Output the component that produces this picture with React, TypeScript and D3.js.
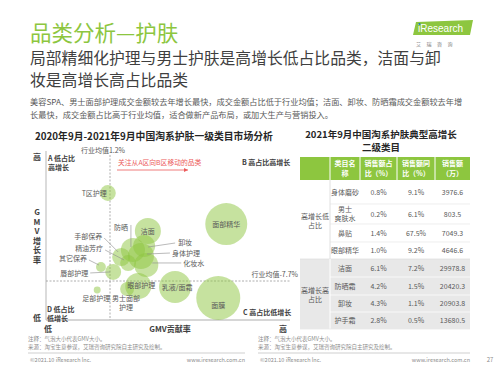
import * as d3 from "d3";

const W = 500;
const H = 370;
const FONT = "'Noto Sans CJK SC', 'Noto Sans', sans-serif";
const GREEN = "#8dc63f";

// bubble chart: GMV contribution (%), GMV growth (%), GMV size
const CATEGORIES = ["T区护理", "洁面", "防晒", "手部保养", "精油芳疗", "其它保养", "唇部护理", "卸妆", "身体护理", "化妆水", "面部精华", "乳液/面霜", "眼部护理", "面膜", "足部护理", "男士面部护理"];
const SHARE = [1.16, 1.91, 1.63, 1.41, 1.54, 1.03, 1.26, 1.84, 1.78, 1.88, 3.38, 2.42, 1.73, 3.23, 0.96, 1.52];
const GROWTH = [65.2, 33.7, 18, 12.2, 7.2, 3.9, -0.2, 21.3, 13, 5.6, 39.5, -12.7, -11.8, -21.8, -15.1, -14.3];
const GMV = [13, 35, 30, 17, 13, 5, 13, 25, 35, 30, 91, 53, 35, 100, 2.5, 10];
const AVG_SHARE = 1.2;
const AVG_GROWTH = -7.7;

// table
const GROUPS = ["高增长低占比", "高增长高占比"];
const ITEMS = ["身体磨砂", "男士爽肤水", "鼻贴", "眼部精华", "洁面", "防晒霜", "卸妆", "护手霜"];
const ITEM_SHARE = [0.8, 0.2, 1.4, 1.0, 6.1, 4.2, 4.3, 2.8];
const ITEM_YOY = [9.1, 6.1, 67.5, 9.2, 7.2, 1.5, 1.1, 0.5];
const ITEM_SALES = [3976.6, 803.5, 7049.3, 4646.6, 29978.8, 20420.3, 20903.8, 13680.5];
const HEADERS = [[""], ["类目名", "称"], ["销售额占", "比（%）"], ["销售额同", "比（%）"], ["销售额", "（万）"]];

// label placement relative to bubble centre (dx, dy, anchor, leader line)
type Lab = { dx: number; dy: number; anchor: string; line?: number[]; lines?: string[] };
const LABELS: Lab[] = [
  { dx: -1, dy: 3, anchor: "end" },
  { dx: 0, dy: 3, anchor: "middle" },
  { dx: -12, dy: -20, anchor: "middle", line: [-2, -25, -2, -3] },
  { dx: -19, dy: -18, anchor: "end", line: [-17, -19, -3, -5] },
  { dx: -25, dy: -12, anchor: "end", line: [-23, -13, -4, -3] },
  { dx: -14, dy: -6, anchor: "end", line: [-12, -7, -2, -2] },
  { dx: -25, dy: 4, anchor: "end", line: [-23, 1, -3, 0] },
  { dx: 34, dy: -1, anchor: "start", line: [31, -3, 4, 1] },
  { dx: 31, dy: 0, anchor: "start", line: [29, -3, 6, -2] },
  { dx: 37, dy: 1, anchor: "start", line: [35, -2, 6, -2] },
  { dx: 0, dy: 3, anchor: "middle" },
  { dx: 2, dy: 3, anchor: "middle" },
  { dx: 3, dy: 2, anchor: "middle" },
  { dx: 0, dy: 10, anchor: "middle" },
  { dx: -1, dy: 11, anchor: "middle" },
  { dx: -1, dy: 12, anchor: "middle", lines: ["男士面部", "护理"] },
];

const ROW_H = [24, 20, 18, 17, 18, 18, 17, 17];
const COLS = [300, 330, 360, 397, 435, 470];

export default function App() {
  const x = d3.scaleLinear().domain([0, 4.5]).range([46, 286]);
  const y = d3.scaleLinear().domain([-40, 100]).range([320, 151]);
  const r = d3.scaleSqrt().domain([0, 100]).range([0, 22]);
  const pct = d3.format(".1f");

  const ax = x(AVG_SHARE);
  const ay = y(AVG_GROWTH);

  const rowTop: number[] = [];
  ROW_H.reduce((acc, h) => { rowTop.push(acc); return acc + h; }, 180);
  const tableBottom = rowTop[7] + ROW_H[7];
  const colMid = (i: number) => (COLS[i] + COLS[i + 1]) / 2;

  const small = { fontSize: 7, fill: "#595959" };

  return (
    <svg width={W} height={H} style={{ position: "fixed", left: 0, top: 0, fontFamily: FONT }}>
      <rect width={W} height={H} fill="#fff" />
      <defs>
        <marker id="arr" markerWidth="6" markerHeight="6" refX="5" refY="3" orient="auto">
          <path d="M0,0.5 L5,3 L0,5.5 Z" fill="#ec5b5b" />
        </marker>
      </defs>

      {/* header */}
      <text x={30} y={41} fontSize={21.5} fill={GREEN}>品类分析—护肤</text>
      <polygon points="416,22 473,20 470,35 413,35" fill={GREEN} />
      <text x={418} y={32} fontSize={10} fill="#fff" fontFamily="'Liberation Sans', sans-serif">iResearch</text>
      <circle cx={419.5} cy={24} r={1} fill="#1a75bb" />
      <text x={416} y={46} fontSize={5} fill="#777" letterSpacing={5.5}>艾瑞咨询</text>

      <text x={30} y={64} fontSize={15.8} fill="#404040">局部精细化护理与男士护肤是高增长低占比品类，洁面与卸</text>
      <text x={30} y={86} fontSize={15.8} fill="#404040">妆是高增长高占比品类</text>
      <text x={30} y={105} fontSize={8.2} fill="#595959">美容SPA、男士面部护理成交金额较去年增长最快，成交金额占比低于行业均值；洁面、卸妆、防晒霜成交金额较去年增</text>
      <text x={30} y={118} fontSize={8.2} fill="#595959">长最快，成交金额占比高于行业均值，适合做新产品布局，或加大生产与营销投入。</text>

      {/* bubble chart */}
      <text x={35} y={140} fontSize={9.8} fontWeight="bold" fill="#262626">2020年9月-2021年9月中国淘系护肤一级类目市场分析</text>

      <line x1={46} x2={46} y1={151} y2={320} stroke="#c8c8c8" strokeWidth={1.3} />
      <line x1={46} x2={290} y1={320} y2={320} stroke="#c8c8c8" strokeWidth={1.3} />
      <line x1={ax} x2={ax} y1={155} y2={320} stroke="#9a9a9a" strokeWidth={0.8} strokeDasharray="2,1.5" />
      <line x1={46} x2={290} y1={ay} y2={ay} stroke="#9a9a9a" strokeWidth={0.8} strokeDasharray="2,1.5" />
      <text x={ax - 7} y={153} fontSize={7} fill="#595959" textAnchor="middle">行业均值1.2%</text>
      <text x={298} y={277} fontSize={7} fill="#595959" textAnchor="end">行业均值-7.7%</text>

      <text x={37} y={160} fontSize={8} fontWeight="bold" fill="#404040" textAnchor="middle">高</text>
      {["G", "M", "V", "增", "长", "率"].map((c, i) => (
        <text key={c} x={37} y={215 + i * 9.5} fontSize={8} fontWeight="bold" fill="#404040" textAnchor="middle">{c}</text>
      ))}
      <text x={37} y={321} fontSize={8} fontWeight="bold" fill="#404040" textAnchor="middle">低</text>
      <text x={48} y={332} fontSize={8} fontWeight="bold" fill="#404040" textAnchor="middle">低</text>
      <text x={170} y={332} fontSize={8} fontWeight="bold" fill="#404040" textAnchor="middle">GMV贡献率</text>
      <text x={283} y={332} fontSize={8} fontWeight="bold" fill="#404040" textAnchor="middle">高</text>

      <g fontSize={7} fontWeight="bold" fill="#404040">
        <text x={48} y={161}>A 低占比</text>
        <text x={48} y={170}>高增长</text>
        <text x={242} y={165}>B 高占比高增长</text>
        <text x={243} y={315}>C 高占比低增长</text>
        <text x={47} y={312}>D 低占比</text>
        <text x={47} y={321}>低增长</text>
      </g>
      <text x={118} y={165} fontSize={6.8} fill="#ec5b5b">关注从A区向B区移动的品类</text>
      <line x1={117} x2={188} y1={170} y2={170} stroke="#ec5b5b" strokeWidth={0.8} markerEnd="url(#arr)" />

      <g>
        {CATEGORIES.map((c, i) => (
          <circle key={c} cx={x(SHARE[i])} cy={y(GROWTH[i])} r={r(GMV[i])} fill={GREEN} fillOpacity={0.5} />
        ))}
      </g>
      <g fontSize={7} fill="#595959">
        {CATEGORIES.map((c, i) => {
          const cx = x(SHARE[i]);
          const cy = y(GROWTH[i]);
          const l = LABELS[i];
          return (
            <g key={c}>
              {l.line && (
                <line x1={cx + l.line[0]} y1={cy + l.line[1]} x2={cx + l.line[2]} y2={cy + l.line[3]} stroke="#8c8c8c" strokeWidth={0.6} />
              )}
              {(l.lines || [c]).map((t, j) => (
                <text key={t} x={cx + l.dx} y={cy + l.dy + j * 9} textAnchor={l.anchor}>{t}</text>
              ))}
            </g>
          );
        })}
      </g>

      {/* table */}
      <text x={381} y={138} fontSize={9.5} fontWeight="bold" fill="#262626" textAnchor="middle">2021年9月中国淘系护肤典型高增长</text>
      <text x={381} y={151} fontSize={9.5} fontWeight="bold" fill="#262626" textAnchor="middle">二级类目</text>

      <rect x={COLS[0]} y={157} width={COLS[5] - COLS[0]} height={23} fill={GREEN} />
      {HEADERS.map((h, i) => (
        <g key={i}>
          {i > 0 && <line x1={COLS[i]} x2={COLS[i]} y1={157} y2={180} stroke="#fff" strokeWidth={1} />}
          {h.map((t, j) => (
            <text key={j} x={colMid(i)} y={166 + j * 9.5} fontSize={7} fontWeight="bold" fill="#fff" textAnchor="middle">{t}</text>
          ))}
        </g>
      ))}

      <rect x={COLS[0]} y={rowTop[4]} width={COLS[5] - COLS[0]} height={tableBottom - rowTop[4]} fill="#e8e8e8" />
      {ITEMS.map((it, i) => {
        const top = rowTop[i];
        const mid = top + ROW_H[i] / 2;
        const second = i >= 4;
        const names = it === "男士爽肤水" ? ["男士", "爽肤水"] : [it];
        return (
          <g key={it}>
            {i % 4 !== 3 && (
              <line x1={COLS[1]} x2={COLS[5]} y1={top + ROW_H[i]} y2={top + ROW_H[i]} stroke={second ? "#fff" : "#e6e6e6"} strokeWidth={0.7} />
            )}
            {names.map((n, j) => (
              <text key={n} x={colMid(1)} y={mid + 2.5 + (j - (names.length - 1) / 2) * 9} fontSize={7} fill="#595959" textAnchor="middle">{n}</text>
            ))}
            <text x={colMid(2)} y={mid + 2.5} {...small} textAnchor="middle">{pct(ITEM_SHARE[i])}%</text>
            <text x={colMid(3)} y={mid + 2.5} {...small} textAnchor="middle">{pct(ITEM_YOY[i])}%</text>
            <text x={colMid(4)} y={mid + 2.5} {...small} textAnchor="middle">{pct(ITEM_SALES[i])}</text>
          </g>
        );
      })}
      {GROUPS.map((g, gi) => {
        const top = rowTop[gi * 4];
        const bottom = gi === 0 ? rowTop[4] : tableBottom;
        const mid = (top + bottom) / 2;
        return (
          <g key={g}>
            <line x1={COLS[1]} x2={COLS[1]} y1={top} y2={bottom} stroke={gi ? "#fff" : "#e0e0e0"} strokeWidth={1} />
            <line x1={COLS[0]} x2={COLS[5]} y1={bottom} y2={bottom} stroke={gi ? "#e8e8e8" : "#e0e0e0"} strokeWidth={0.8} />
            <text x={colMid(0)} y={mid - 1} fontSize={7} fill="#595959" textAnchor="middle">{g.slice(0, 4)}</text>
            <text x={colMid(0)} y={mid + 8} fontSize={7} fill="#595959" textAnchor="middle">{g.slice(4)}</text>
          </g>
        );
      })}

      {/* footers */}
      {[28, 258].map((fx, k) => (
        <g key={fx} fontSize={5.5} fill="#8c8c8c">
          <text x={fx} y={341}>注释：气泡大小代表GMV大小。</text>
          <text x={fx} y={349}>来源：淘宝生意参谋，艾瑞咨询研究院自主研究及绘制。</text>
          <line x1={fx} x2={k ? 470 : 245} y1={353} y2={353} stroke="#d0d0d0" strokeWidth={1.2} />
          <text x={fx + 2} y={362}>©2021.10 iResearch Inc.</text>
          <text x={k ? 470 : 245} y={362} textAnchor="end">www.iresearch.com.cn</text>
        </g>
      ))}
      <text x={490} y={362} fontSize={6} fill="#8c8c8c" textAnchor="middle">27</text>
    </svg>
  );
}
